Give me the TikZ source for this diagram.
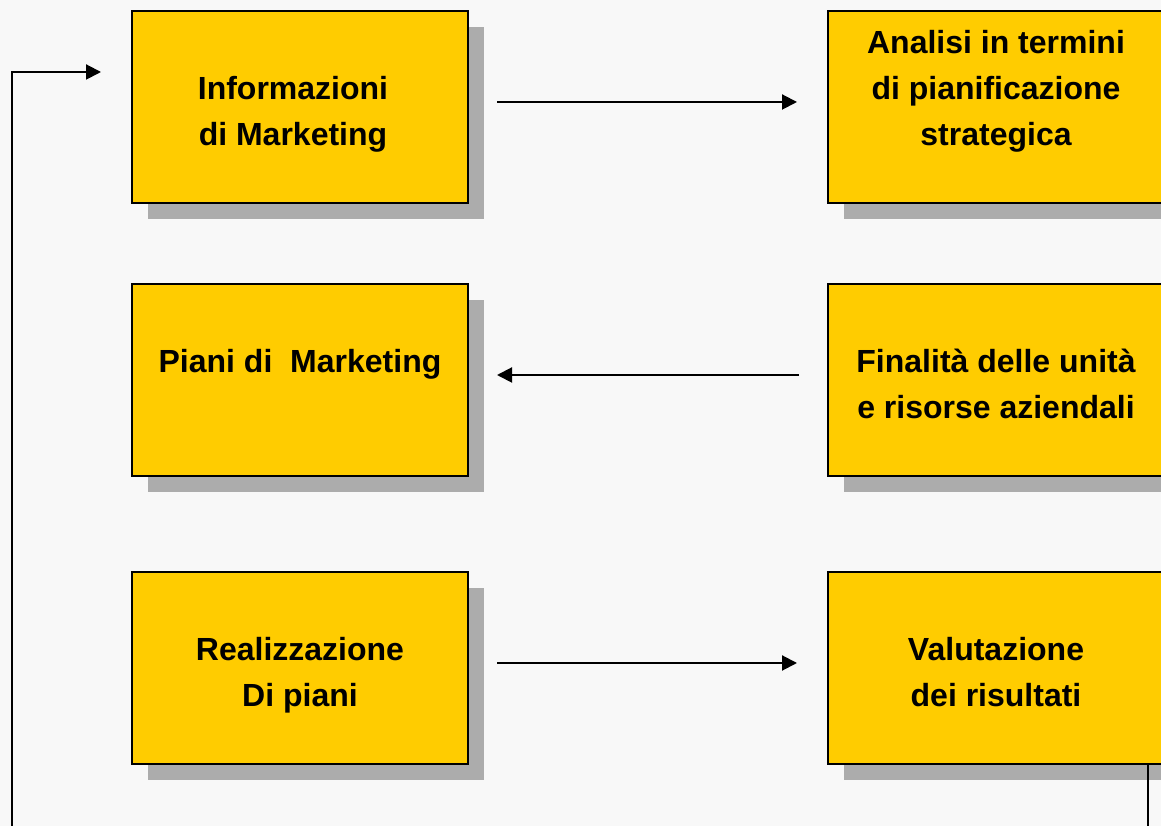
\documentclass[tikz,border=0pt]{standalone}
\usepackage{fontspec}
\setmainfont{Liberation Sans}
\usetikzlibrary{arrows.meta,shadows}
\definecolor{boxyellow}{RGB}{255,204,0}
\definecolor{shadowgray}{RGB}{172,172,172}
\definecolor{paper}{RGB}{248,248,248}
\newcommand{\topgap}{\rule{0pt}{32pt}}
\tikzset{
  stepbox/.style={draw=black, line width=2pt, fill=boxyellow,
    minimum width=336pt, minimum height=192pt, align=center, text depth=0pt,
    font=\fontsize{32}{46}\selectfont\bfseries,
    drop shadow={shadow xshift=16pt, shadow yshift=-16pt, opacity=1, fill=shadowgray, draw=none}},
  link/.style={line width=2pt, -{Triangle[length=15pt,width=15pt]}}
}
\begin{document}
\begin{tikzpicture}[x=1pt,y=1pt]
        \useasboundingbox[fill=paper] (0,0) rectangle (1161,826);

        \node[stepbox] (info) at (300,719) {\topgap Informazioni\hspace*{14pt}\\di Marketing\hspace*{14pt}};
        \node[stepbox] (analisi) at (996,719) {\topgap Analisi in termini\\di pianificazione\\strategica\\\mbox{}};
        \node[stepbox] (piani) at (300,446) {\topgap Piani di~ Marketing\\\mbox{}};
        \node[stepbox] (finalita) at (996,446) {\topgap Finalità delle unità\\e risorse aziendali};
        \node[stepbox] (realiz) at (300,158) {\topgap Realizzazione\\Di piani};
        \node[stepbox] (valut) at (996,158) {\topgap Valutazione\\dei risultati};

        \draw[link] ([shift={(28,5)}]info.east) -- ([shift={(-30,5)}]analisi.west);
        \draw[link] ([shift={(-28,5)}]finalita.west) -- ([shift={(28,5)}]piani.east);
        \draw[link] ([shift={(28,5)}]realiz.east) -- ([shift={(-30,5)}]valut.west);

        \coordinate (back) at ([shift={(-30,35)}]info.west);
        \draw[link] ([xshift=-17]valut.south east) -- ++(0,-90) -| (12,0) |- (back);
\end{tikzpicture}
\end{document}
